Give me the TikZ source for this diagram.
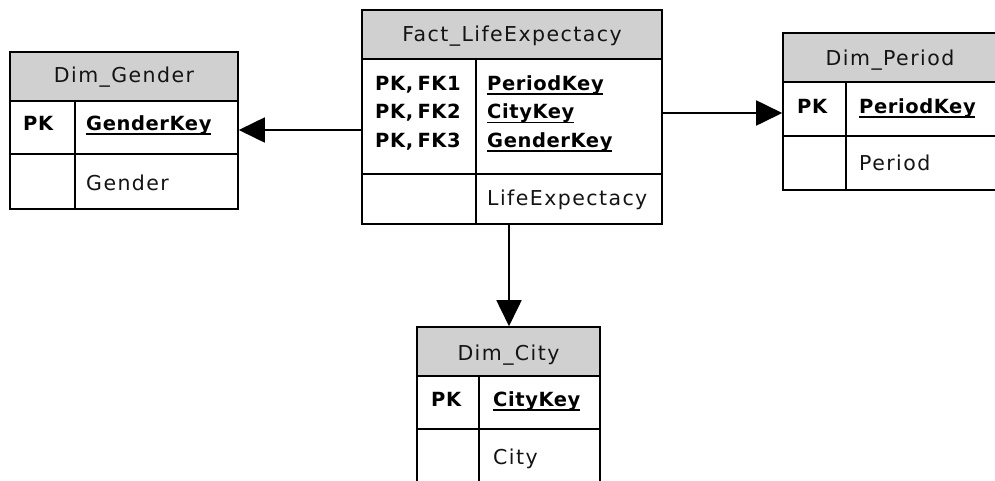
\documentclass[tikz,border=0pt]{standalone}
\usepackage{fontspec}
\setmainfont{DejaVu Sans}
\newfontfamily\plainfont{DejaVu Sans}[LetterSpace=7]
\newfontfamily\keyfont{DejaVu Sans}[LetterSpace=3]
\usetikzlibrary{arrows.meta}
\definecolor{hdgray}{RGB}{208,208,208}
\definecolor{ink}{RGB}{20,20,20}
\tikzset{
  frame/.style={draw=black, line width=1.6pt, inner sep=0pt},
  headbox/.style={frame, fill=hdgray},
  rowbox/.style={frame, fill=white},
  divider/.style={draw=black, line width=1.6pt},
  title/.style={anchor=base, inner sep=0pt, text=ink,
    font=\plainfont\fontsize{20.5}{24}\selectfont},
  attr/.style={anchor=base west, inner sep=0pt, text=ink,
    font=\plainfont\fontsize{20.5}{24}\selectfont},
  key/.style={anchor=base west, inner sep=0pt, text=black,
    font=\keyfont\bfseries\fontsize{19.5}{23}\selectfont},
  uline/.style={draw=black, line width=1.5pt},
  fk/.style={draw=black, line width=1.8pt,
    -{Triangle[length=26pt,width=25pt]}},
}
\newcommand{\keyline}[1]{\draw[uline] ([yshift=-4pt]#1.base west) -- ([yshift=-4pt,xshift=-1pt]#1.base east);}
\newcommand{\pkfk}[1]{PK,\kern-3pt\ FK#1}
\begin{document}
\begin{tikzpicture}[x=1pt, y=-1pt]
\useasboundingbox (0,0) rectangle (995,480);

% ---- Dim_Gender ----
\node[headbox, minimum width=228pt, minimum height=49pt] (g-head) at (124,76.5) {};
\node[rowbox, minimum width=228pt, minimum height=53pt] (g-key) at (124,127.5) {};
\node[rowbox, minimum width=228pt, minimum height=55pt] (g-att) at (124,181.5) {};
\draw[divider] (75,101) -- (75,209);
\node[title] (g-title) at (124,82.7) {Dim\_Gender};
\node[key] (g-pk) at (23,130) {PK};
\node[key] (g-k1) at (86,130) {GenderKey};
\keyline{g-k1}
\node[attr] (g-a1) at (86,190) {Gender};

% ---- Fact_LifeExpectacy ----
\node[headbox, minimum width=300pt, minimum height=49pt] (f-head) at (512,34.5) {};
\node[rowbox, minimum width=300pt, minimum height=115pt] (f-key) at (512,116.5) {};
\node[rowbox, minimum width=300pt, minimum height=50pt] (f-att) at (512,199) {};
\draw[divider] (476,59) -- (476,224);
\node[title] (f-title) at (512,41) {Fact\_LifeExpectacy};
\node[key] (f-pk1) at (375,90) {\pkfk{1}};
\node[key] (f-pk2) at (375,118.5) {\pkfk{2}};
\node[key] (f-pk3) at (375,147) {\pkfk{3}};
\node[key] (f-k1) at (487,90) {PeriodKey};
\node[key] (f-k2) at (487,118.5) {CityKey};
\node[key] (f-k3) at (487,147) {GenderKey};
\keyline{f-k1}
\keyline{f-k2}
\keyline{f-k3}
\node[attr] (f-a1) at (487,205) {LifeExpectacy};

% ---- Dim_Period ----
\node[headbox, minimum width=214pt, minimum height=49pt] (p-head) at (890,57.5) {};
\node[rowbox, minimum width=214pt, minimum height=54pt] (p-key) at (890,109) {};
\node[rowbox, minimum width=214pt, minimum height=54pt] (p-att) at (890,163) {};
\draw[divider] (846,82) -- (846,190);
\node[title] (p-title) at (890,65) {Dim\_Period};
\node[key] (p-pk) at (797,113) {PK};
\node[key] (p-k1) at (859,113) {PeriodKey};
\keyline{p-k1}
\node[attr] (p-a1) at (859,170.7) {Period};

% ---- Dim_City ----
\node[headbox, minimum width=183pt, minimum height=49pt] (c-head) at (508.5,351.5) {};
\node[rowbox, minimum width=183pt, minimum height=53pt] (c-key) at (508.5,402.5) {};
\node[rowbox, minimum width=183pt, minimum height=55pt] (c-att) at (508.5,456.5) {};
\draw[divider] (479,376) -- (479,484);
\node[title] (c-title) at (508.5,360.7) {Dim\_City};
\node[key] (c-pk) at (431,406) {PK};
\node[key] (c-k1) at (493,406) {CityKey};
\keyline{c-k1}
\node[attr] (c-a1) at (493,464) {City};

% ---- relationships ----
\coordinate (yg) at (0,130);
\coordinate (yp) at (0,113);
\coordinate (xc) at (509,0);
\draw[fk] (f-key.west |- yg) -- (g-key.east |- yg);
\draw[fk] (f-key.east |- yp) -- (p-key.west |- yp);
\draw[fk] (f-att.south -| xc) -- (c-head.north -| xc);
\end{tikzpicture}
\end{document}
